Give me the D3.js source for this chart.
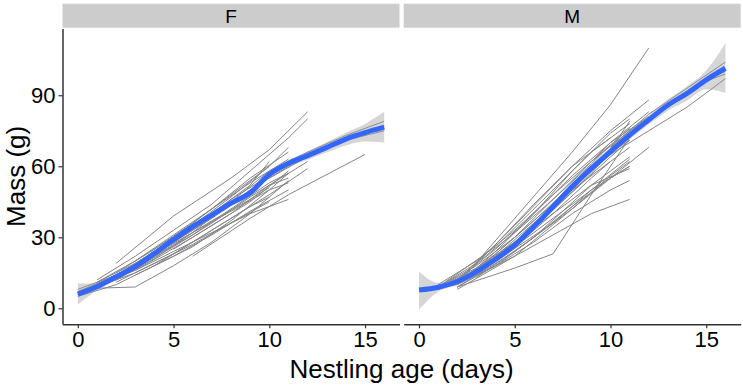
<!DOCTYPE html>
<html lang="en">

<head>
    <meta charset="UTF-8">
    <title>Nestling growth</title>
    <script src="https://d3js.org/d3.v7.min.js"></script>
    <style>
        body { margin: 0; background: #fff; }
        text { font-family: "Liberation Sans", Arial, sans-serif; fill: #000; }
    </style>
</head>

<body>
    <script>
        var width = 743, height = 385;

        // facets and tick labels
        var sexes = ['F', 'M'];
        var xTicks = [0, 5, 10, 15];
        var yTicks = [0, 30, 60, 90];

        // loess fit (blue) and its confidence band, by age
        var smoothAge = [0, 1, 2, 3, 4, 5, 6, 7, 8, 9, 10, 11, 12, 13, 14, 15, 16];
        var fitF = [6, 9.1, 13.3, 17.6, 23.2, 29, 34.5, 39.4, 44.4, 48.8, 56.5, 61.2, 64.5, 68, 71.5, 74.2, 76.5];
        var loF = [1.5, 7.6, 12.2, 16.6, 22.2, 28, 33.4, 38.3, 43.2, 47.4, 55.2, 59.8, 62.8, 65.8, 68.8, 70.5, 70];
        var hiF = [10.5, 10.6, 14.4, 18.6, 24.2, 30, 35.6, 40.5, 45.6, 50.2, 57.8, 62.6, 66.2, 70.2, 74.2, 77.9, 83];
        var fitM = [7.7, 8.9, 11.3, 15.5, 20.7, 26.7, 34.5, 42.9, 51.4, 59.1, 66.2, 73.2, 79.6, 85.9, 90.8, 96.5, 101.4];
        var loM = [-0.5, 7, 9.8, 14.1, 19.3, 25.2, 33, 41.2, 49.7, 57.4, 64.5, 71.4, 77.6, 83.5, 87.8, 92.5, 91];
        var hiM = [15.5, 10.8, 12.8, 16.9, 22.1, 28.2, 36, 44.6, 53.1, 60.8, 67.9, 75, 81.6, 88.3, 93.8, 100.5, 112];

        // individual nestlings: [age, mass]
        var birdsF = [
            [[2, 19], [5, 39], [8, 55], [10, 67], [12, 83]],
            [[1, 12], [3, 22], [5, 33], [7, 44], [9, 58], [11, 72], [12, 80]],
            [[0, 7], [2, 14], [4, 24], [6, 35], [8, 47], [10, 60], [11, 68]],
            [[1, 8.5], [3, 9], [5, 18], [7, 28], [9, 40], [11, 54]],
            [[6, 22], [9, 38], [11, 48], [15, 65]],
            [[1, 10], [3, 16], [5, 24], [7, 32], [9, 40], [11, 46]],
            [[0, 5], [2, 10], [4, 18], [6, 28], [8, 38], [10, 48], [12, 59]],
            [[1, 9], [3, 17], [5, 26], [7, 36], [9, 47], [10, 52], [11, 55]],
            [[9, 50], [11, 60], [13, 68], [15, 74], [16, 77]],
            [[10, 55], [12, 64], [14, 71], [16, 75]],
            [[10, 58], [12, 66], [14, 73], [16, 79]],
            [[2, 13], [4, 22], [6, 31], [8, 42], [10, 53], [11, 57]],
            [[1, 11], [3, 19], [5, 29], [7, 40], [9, 52], [10, 62]],
            [[0, 6], [2, 12], [4, 21], [6, 32], [8, 45], [10, 58], [11, 63]],
            [[2, 15], [4, 25], [6, 36], [8, 48], [10, 60]],
            [[3, 20], [5, 30], [7, 42], [9, 55], [11, 66]],
            [[1, 9], [3, 15], [5, 23], [7, 33], [9, 43], [10, 47]],
            [[2, 11], [4, 19], [6, 27], [8, 36], [10, 45]],
            [[3, 14], [5, 22], [7, 31], [9, 41], [11, 50]],
            [[4, 18], [6, 26], [8, 37], [10, 50], [11, 57]],
            [[0, 7], [2, 13], [4, 23], [6, 33], [8, 44], [9, 50]],
            [[1, 10], [3, 18], [5, 28], [7, 38], [9, 49], [11, 62]],
            [[2, 12], [5, 27], [7, 37], [9, 46], [10, 51]],
            [[3, 16], [6, 30], [8, 40], [10, 52], [12, 62]],
            [[4, 22], [6, 34], [8, 46], [10, 56]],
            [[5, 25], [7, 35], [9, 45], [11, 58]],
            [[1, 11], [3, 20], [5, 31], [7, 42], [9, 53], [10, 58]],
            [[0, 8], [2, 14], [4, 23], [6, 32], [8, 41], [10, 50], [11, 53]]
        ];
        var birdsM = [
            [[2, 10], [5, 38], [8, 66], [10, 86], [12, 110]],
            [[2, 9], [5, 17], [7, 23], [9, 48], [11, 72]],
            [[1, 8], [3, 14], [5, 22], [7, 31], [9, 40], [11, 46]],
            [[2, 9], [4, 18], [6, 28], [8, 40], [10, 50], [11, 54]],
            [[1, 9], [3, 17], [5, 28], [7, 40], [9, 52], [11, 59]],
            [[2, 11], [4, 22], [6, 36], [8, 50], [10, 62], [11, 68]],
            [[1, 10], [3, 20], [5, 33], [7, 48], [9, 62], [11, 76]],
            [[2, 12], [4, 25], [6, 40], [8, 56], [10, 70], [12, 83]],
            [[3, 16], [5, 30], [7, 46], [9, 62], [10, 70], [12, 81]],
            [[1, 9], [3, 18], [5, 30], [7, 44], [9, 58], [10, 65], [12, 75], [14, 85], [16, 97]],
            [[10, 68], [12, 82], [14, 93], [16, 104]],
            [[9, 62], [11, 75], [13, 86], [15, 97], [16, 100]],
            [[11, 73], [13, 85], [15, 96], [16, 99]],
            [[2, 8], [5, 22], [8, 42], [10, 55], [12, 68]],
            [[1, 8], [3, 15], [5, 26], [7, 38], [9, 50], [11, 63]],
            [[2, 11], [4, 23], [6, 37], [8, 52], [10, 66]],
            [[3, 14], [5, 26], [7, 40], [9, 55], [10, 62]],
            [[1, 9], [3, 19], [5, 32], [7, 46], [9, 61], [10, 69]],
            [[2, 10], [4, 21], [6, 34], [8, 49], [10, 64], [11, 71]],
            [[2, 11], [5, 35], [8, 60], [10, 75], [12, 88]],
            [[1, 8], [4, 20], [7, 36], [9, 50], [11, 60]],
            [[2, 9], [5, 24], [8, 42], [10, 56], [11, 62]],
            [[0, 8], [2, 10], [4, 18], [6, 30], [8, 43], [10, 55], [11, 60]],
            [[3, 13], [6, 30], [9, 52], [11, 64]],
            [[1, 9], [3, 16], [6, 34], [9, 57], [10, 66], [11, 71]],
            [[3, 15], [5, 28], [7, 43], [9, 59], [10, 67], [11, 79]],
            [[2, 10], [4, 24], [6, 40], [8, 58], [10, 74], [11, 80]],
            [[1, 9], [4, 26], [7, 50], [9, 66], [11, 78]],
            [[2, 12], [4, 27], [6, 44], [8, 60], [10, 72]]
        ];

        var svg = d3.select('body').append('svg').attr('width', width).attr('height', height);

        var panelTop = 28.5, panelBottom = 324.3;
        var panelLeft = [62.5, 403.7], panelW = 337;

        var y = d3.scaleLinear().domain([-6.76, 118.2]).range([panelBottom, panelTop]);

        var panels = [
            { sex: sexes[0], fit: fitF, lo: loF, hi: hiF, birds: birdsF },
            { sex: sexes[1], fit: fitM, lo: loM, hi: hiM, birds: birdsM }
        ];

        panels.forEach(function (p, i) {
            var x0 = panelLeft[i];
            var x = d3.scaleLinear().domain([-0.8, 16.8]).range([x0, x0 + panelW]);
            var g = svg.append('g');

            // strip
            g.append('rect').attr('x', x0).attr('y', 3.7).attr('width', panelW).attr('height', 24)
                .attr('fill', '#cccccc');
            g.append('text').attr('x', x0 + panelW / 2).attr('y', 16).attr('text-anchor', 'middle')
                .attr('dominant-baseline', 'central').attr('font-size', 19).text(p.sex);

            var line = d3.line().x(function (d) { return x(d[0]); }).y(function (d) { return y(d[1]); });

            // individual growth lines
            g.selectAll('path.bird').data(p.birds).join('path').attr('class', 'bird')
                .attr('d', line).attr('fill', 'none').attr('stroke', '#858585').attr('stroke-width', 1);

            // confidence band
            var band = d3.area().curve(d3.curveMonotoneX)
                .x(function (d, j) { return x(smoothAge[j]); })
                .y0(function (d, j) { return y(p.lo[j]); })
                .y1(function (d, j) { return y(p.hi[j]); });
            g.append('path').attr('d', band(smoothAge)).attr('fill', '#999999').attr('fill-opacity', 0.4);

            // smooth
            var fitLine = d3.line().curve(d3.curveMonotoneX)
                .x(function (d, j) { return x(smoothAge[j]); })
                .y(function (d, j) { return y(p.fit[j]); });
            g.append('path').attr('d', fitLine(smoothAge)).attr('fill', 'none')
                .attr('stroke', '#3366FF').attr('stroke-width', 5);

            // x axis
            var xa = g.append('g').attr('transform', 'translate(0,' + panelBottom + ')')
                .call(d3.axisBottom(x).tickValues(xTicks).tickSize(4).tickPadding(3).tickSizeOuter(0));
            xa.select('.domain').attr('stroke', '#333333').attr('stroke-width', 1.5);
            xa.selectAll('.tick line').attr('stroke', '#333333').attr('stroke-width', 1.2);
            xa.selectAll('.tick text').attr('font-size', 22).attr('fill', '#000')
                .attr('font-family', '"Liberation Sans", Arial, sans-serif');

            if (i === 0) {
                var ya = g.append('g').attr('transform', 'translate(' + x0 + ',0)')
                    .call(d3.axisLeft(y).tickValues(yTicks).tickSize(4).tickPadding(3).tickSizeOuter(0));
                ya.select('.domain').attr('stroke', '#333333').attr('stroke-width', 1.5);
                ya.selectAll('.tick line').attr('stroke', '#333333').attr('stroke-width', 1.2);
                ya.selectAll('.tick text').attr('font-size', 22).attr('fill', '#000')
                    .attr('font-family', '"Liberation Sans", Arial, sans-serif');
            }
        });

        // axis titles
        svg.append('text').attr('x', (panelLeft[0] + panelLeft[1] + panelW) / 2).attr('y', 378)
            .attr('text-anchor', 'middle').attr('font-size', 26).text('Nestling age (days)');
        svg.append('text').attr('transform', 'translate(25,' + (panelTop + panelBottom) / 2 + ') rotate(-90)')
            .attr('text-anchor', 'middle').attr('font-size', 26).text('Mass (g)');
    </script>
</body>

</html>
